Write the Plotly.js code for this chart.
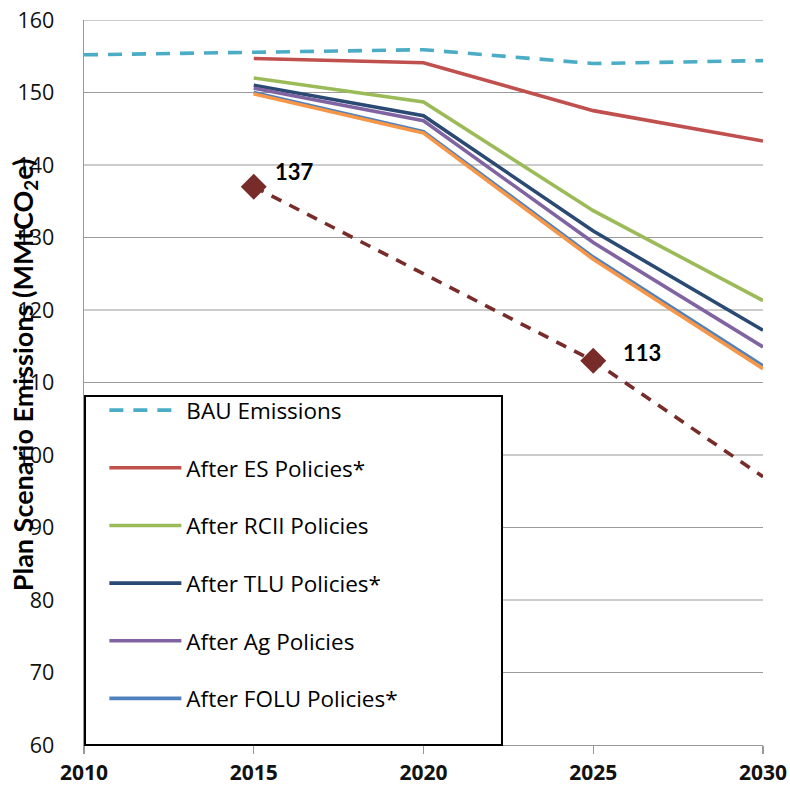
<!DOCTYPE html>
<html>
<head>
<meta charset="utf-8">
<script src="https://cdn.plot.ly/plotly-3.0.1.min.js"></script>
<style>html,body{margin:0;padding:0;background:#fff;}#chart{width:790px;height:791px;}</style>
</head>
<body>
<div id="chart"></div>
<script>
// ---- data ----
const years = [2010, 2015, 2020, 2025, 2030];
const bau    = [155.2, 155.6, 155.9, 154.0, 154.4];
const es     = [null, 154.7, 154.1, 147.5, 143.3];
const rcii   = [null, 152.0, 148.7, 133.7, 121.3];
const tlu    = [null, 151.0, 146.8, 130.9, 117.2];
const ag     = [null, 150.6, 146.1, 129.3, 114.9];
const folu   = [null, 150.0, 144.6, 127.3, 112.3];
const orange = [null, 149.8, 144.4, 127.0, 111.9];
const target = [null, 137, null, 113, 97];
const targetLabelled = [false, true, false, true, false];
const seriesNames = ["BAU Emissions", "After ES Policies*", "After RCII Policies",
                     "After TLU Policies*", "After Ag Policies", "After FOLU Policies*"];
const xTicks = [2010, 2015, 2020, 2025, 2030];
const yTicks = [60, 70, 80, 90, 100, 110, 120, 130, 140, 150, 160];

// ---- traces ----
const lw = 3.6;
function line(y, name, color, dash, show, group) {
  return {x: years, y: y, name: name, type: 'scatter', mode: 'lines', connectgaps: true,
          line: {color: color, width: lw, dash: dash || 'solid'},
          showlegend: show, legendgroup: group, hoverinfo: 'skip'};
}
const markX = years.filter((_, i) => targetLabelled[i]);
const markY = target.filter((_, i) => targetLabelled[i]);
const traces = [
  line(bau, seriesNames[0], '#4BACC6', '14px,10px', true, 'g0'),
  line(es, seriesNames[1], '#C0504D', null, true, 'g1'),
  line(rcii, seriesNames[2], '#9BBB59', null, true, 'g2'),
  line(tlu, seriesNames[3], '#2A4A74', null, true, 'g3'),
  line(ag, seriesNames[4], '#8064A2', null, true, 'g4'),
  line(folu, seriesNames[5], '#4F81BD', null, true, 'g5'),
  line(orange, 'Orange', '#F79646', null, false, 'g6'),
  line(target, 'Target', '#772C2A', '11px,9px', false, 'g7'),
  {x: markX, y: markY, name: 'Target points', type: 'scatter', mode: 'markers',
   marker: {symbol: 'diamond', color: '#772C2A', size: 20, opacity: 1, line: {width: 0}},
   showlegend: false, hoverinfo: 'skip'}
];

// ---- legend box & gridlines (gridlines hidden behind the legend box) ----
const box = {x0: 0.0015, x1: 0.6156, y0: 0, y1: 0.4814};
const boxTopValue = 60 + box.y1 * (160 - 60);
const shapes = [];
yTicks.forEach(t => {
  if (t === 60) return;
  shapes.push({type: 'line', xref: 'paper', yref: 'y', x0: t < boxTopValue ? box.x1 : 0, x1: 1,
    y0: t, y1: t, line: {color: '#9a9a9a', width: 1.2}, layer: 'below'});
});
shapes.push({type: 'rect', xref: 'paper', yref: 'paper', x0: box.x0, x1: box.x1, y0: box.y0, y1: box.y1,
  fillcolor: 'white', line: {color: '#000', width: 2}, layer: 'above'});

// ---- annotations ----
const annotations = [];
const shifts = [[41, 15], [49, 8]];
markX.forEach((yr, i) => {
  annotations.push({x: yr, y: markY[i], xref: 'x', yref: 'y', text: '<b>' + String(markY[i]) + '</b>',
    showarrow: false, xshift: shifts[i][0], yshift: shifts[i][1],
    font: {family: 'Lato', size: 22, color: '#000'}});
});
annotations.push({xref: 'paper', yref: 'paper', x: 0, y: 0.51, xshift: -60,
  xanchor: 'center', yanchor: 'middle',
  text: '<b>Plan Scenario Emissions (MMtCO<sub>2</sub>e)</b>', textangle: -90, showarrow: false,
  font: {family: 'Lato', size: 27, color: '#000'}});

const layout = {
  width: 790, height: 791,
  margin: {l: 84, r: 27, t: 20, b: 46},
  paper_bgcolor: '#fff', plot_bgcolor: '#fff',
  showlegend: true,
  xaxis: {range: [2010, 2030], tickvals: xTicks, ticktext: xTicks.map(String),
    showgrid: false, zeroline: false, showline: true, linecolor: '#999', linewidth: 1.3,
    ticks: 'outside', ticklen: 8, tickcolor: '#999', tickwidth: 1.3,
    tickfont: {family: 'Open Sans', size: 21, color: '#111', weight: 'bold'}},
  yaxis: {range: [60, 160], tickvals: yTicks, ticktext: yTicks.map(String),
    showgrid: false, zeroline: false,
    showline: true, linecolor: '#999', linewidth: 1.3, ticks: '',
    ticklabelstandoff: 24,
    tickfont: {family: 'Open Sans', size: 21.5, color: '#111'}},
  shapes: shapes,
  legend: {x: 0.03, y: 0.491, xanchor: 'left', yanchor: 'top', bgcolor: 'rgba(0,0,0,0)',
    borderwidth: 0, tracegroupgap: 25.4, itemwidth: 72,
    font: {family: 'Open Sans', size: 22.5, color: '#000'}},
  annotations: annotations
};

Plotly.newPlot('chart', traces, layout, {displayModeBar: false, staticPlot: true});
</script>
</body>
</html>
